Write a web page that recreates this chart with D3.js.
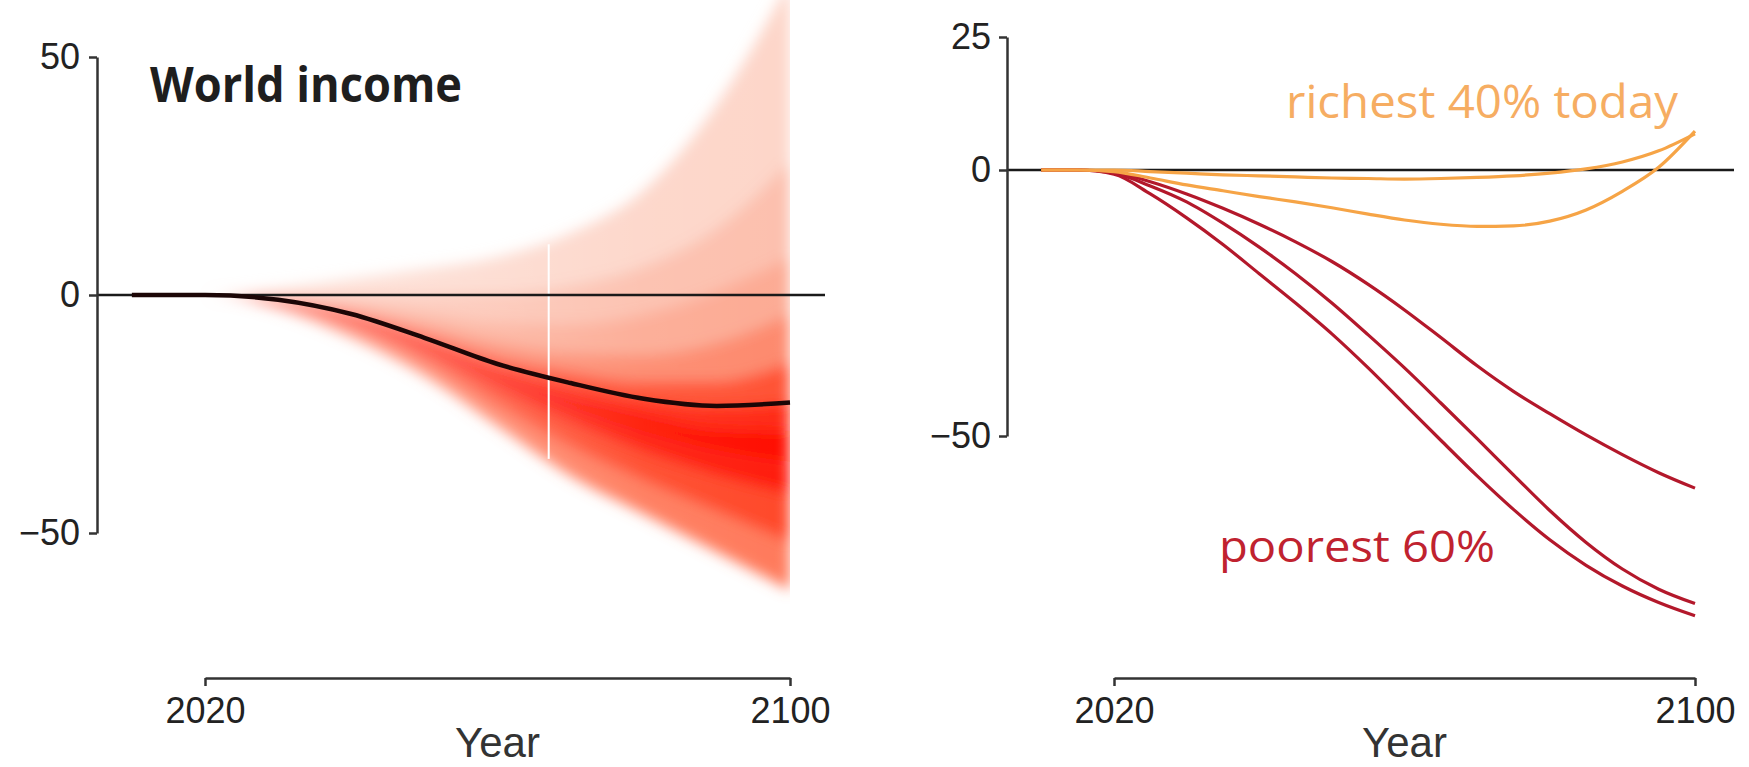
<!DOCTYPE html>
<html>
<head>
<meta charset="utf-8">
<script src="https://cdn.jsdelivr.net/npm/d3@7"></script>
<style>
  html, body { margin: 0; padding: 0; background: #fff; }
</style>
</head>
<body>
<script>
// ---- data ----
// left panel: world income, quantiles of the projected change (%)
const fanYears  = [2010, 2020, 2030, 2040, 2050, 2060, 2070, 2080, 2090, 2100];
const fanMedian = [0, 0, -1, -4, -9, -14.5, -18.5, -21.8, -23.3, -22.6];
const fanQ025 = [0, 0, -3, -9, -17, -27.5, -38, -46, -54, -62];
const fanQ10  = [0, 0, -2.5, -7.5, -14.5, -23.5, -32, -39, -45.5, -52];
const fanQ20  = [0, 0, -2, -6.3, -12.5, -20, -27, -33, -38, -42];
const fanQ30  = [0, 0, -1.6, -5.4, -11, -17.5, -23.5, -28.5, -32.5, -35];
const fanQ40  = [0, 0, -1.3, -4.7, -10, -16, -21, -25, -28, -28.5];
const fanQ60  = [0, 0, -0.7, -3.2, -7.5, -12.5, -15.8, -18, -18, -14];
const fanQ70  = [0, 0, -0.3, -2.2, -5.5, -9.5, -12, -12.5, -10, -4];
const fanQ80  = [0, 0, 0.2, -0.8, -3, -5.5, -6, -4, 1, 8];
const fanQ90  = [0, 0, 0.7, 1, 0.5, 0.5, 2, 6, 14, 28];
const fanQ975 = [0, 0, 1.5, 3.5, 5.5, 8, 13, 22, 40, 66];
const splitYear = 2067;

// right panel: income groups, every 5 years
const groupYears   = [2010, 2015, 2020, 2025, 2030, 2035, 2040, 2045, 2050, 2055,
                      2060, 2065, 2070, 2075, 2080, 2085, 2090, 2095, 2100];
const richestUpper = [0, 0, 0, -0.3, -0.6, -0.9, -1.1, -1.3, -1.5, -1.6,
                      -1.7, -1.6, -1.4, -1.1, -0.6, 0.2, 1.5, 3.6, 6.8];
const richestLower = [0, 0, -0.3, -1.5, -2.8, -3.9, -5, -6, -7.1, -8.3,
                      -9.4, -10.2, -10.6, -10.5, -9.6, -7.5, -4, 0.5, 7.3];
const poorestTop   = [0, 0, -0.4, -2.2, -4.5, -7.2, -10.2, -13.5, -17.2, -21.5,
                      -26.3, -31.5, -36.8, -41.6, -45.8, -49.8, -53.5, -56.9, -59.8];
const poorestMid   = [0, 0, -0.6, -3, -6, -10, -14.5, -19.5, -25, -31,
                      -37.2, -43.8, -50.5, -57.3, -64, -70, -75, -78.8, -81.5];
const poorestLow   = [0, 0, -0.8, -4.5, -9, -14, -19.5, -25, -30.8, -37.2,
                      -44, -50.8, -57.5, -63.8, -69.5, -74.3, -78.2, -81.3, -83.8];

const leftYTicks  = [-50, 0, 50];
const rightYTicks = [-50, 0, 25];
const xTicks      = [2020, 2100];

// ---- layout ----
const W = 1749, H = 767;
const tickFont = '"Liberation Sans", Arial, Helvetica, sans-serif';
const labelFont = '"Open Sans", "Noto Sans", sans-serif';

const svg = d3.select('body').append('svg')
    .attr('width', W)
    .attr('height', H)
    .style('background-color', '#fff');

const xL = d3.scaleLinear().domain([2020, 2100]).range([205, 790]);
const yL = d3.scaleLinear().domain([-50, 50]).range([533, 57]);
const xR = d3.scaleLinear().domain([2020, 2100]).range([1114, 1695]);
const yR = d3.scaleLinear().domain([-50, 25]).range([436, 37]);

const axisLeftX = 97, axisRightX = 1007, axisBottomY = 678;

function styleAxis(g) {
    g.select('.domain').attr('stroke', '#333').attr('stroke-width', 2.5);
    g.selectAll('.tick line').attr('stroke', '#333').attr('stroke-width', 2.5);
    g.selectAll('.tick text')
        .attr('fill', '#222')
        .style('font-family', tickFont)
        .style('font-size', '36px');
}

// ---- left panel: fan ----
const defs = svg.append('defs');
defs.append('filter')
    .attr('id', 'soft')
    .attr('x', '-20%').attr('y', '-20%')
    .attr('width', '140%').attr('height', '140%')
    .append('feGaussianBlur')
    .attr('stdDeviation', 7);
defs.append('clipPath')
    .attr('id', 'fanClip')
    .append('rect')
    .attr('x', axisLeftX)
    .attr('y', 0)
    .attr('width', xL(2100) - axisLeftX)
    .attr('height', H);

// white veil that lightens the early years of the fan
const veil = defs.append('linearGradient')
    .attr('id', 'veil')
    .attr('gradientUnits', 'userSpaceOnUse')
    .attr('x1', xL(2020)).attr('x2', xL(2100))
    .attr('y1', 0).attr('y2', 0);
veil.append('stop').attr('offset', '0%').attr('stop-color', '#fff').attr('stop-opacity', 0.5);
veil.append('stop').attr('offset', '40%').attr('stop-color', '#fff').attr('stop-opacity', 0.25);
veil.append('stop').attr('offset', '75%').attr('stop-color', '#fff').attr('stop-opacity', 0.05);
veil.append('stop').attr('offset', '100%').attr('stop-color', '#fff').attr('stop-opacity', 0);

const fanStack = [fanQ025, fanQ10, fanQ20, fanQ30, fanQ40, fanMedian, fanQ60, fanQ70, fanQ80, fanQ90, fanQ975];
const fanColors = ['#ff7a5c', '#ff4a2b', '#ff1e0a', '#ff0c00', '#ff2a12', '#ff5234',
                   '#fd8a6e', '#fcab94', '#fcc0ae', '#fdd6c9'];

const fanClipped = svg.append('g')
    .attr('clip-path', 'url(#fanClip)');
const fanG = fanClipped.append('g')
    .attr('filter', 'url(#soft)');

for (let i = 0; i < fanStack.length - 1; i++) {
    const lower = fanStack[i], upper = fanStack[i + 1];
    const area = d3.area()
        .x((d, j) => xL(fanYears[j]))
        .y0((d, j) => yL(lower[j]))
        .y1((d, j) => yL(upper[j]))
        .curve(d3.curveMonotoneX);
    fanG.append('path')
        .datum(fanYears)
        .attr('d', area)
        .attr('fill', fanColors[i]);
}

fanClipped.append('rect')
    .attr('x', xL(2010)).attr('y', 0)
    .attr('width', xL(2100) - xL(2010))
    .attr('height', H)
    .attr('fill', 'url(#veil)');

// white split line across the fan
const topAt = d3.scaleLinear().domain(fanYears).range(fanQ975);
const botAt = d3.scaleLinear().domain(fanYears).range(fanQ025);
svg.append('line')
    .attr('x1', xL(splitYear)).attr('x2', xL(splitYear))
    .attr('y1', yL(topAt(splitYear)) + 4)
    .attr('y2', yL(botAt(splitYear)) - 2)
    .attr('stroke', '#fff')
    .attr('stroke-width', 2);

// zero line
svg.append('line')
    .attr('x1', axisLeftX).attr('x2', xL(2100) + 35)
    .attr('y1', yL(0)).attr('y2', yL(0))
    .attr('stroke', '#1a1a1a')
    .attr('stroke-width', 2.5);

// median
svg.append('path')
    .datum(fanMedian)
    .attr('d', d3.line()
        .x((d, j) => xL(fanYears[j]))
        .y(d => yL(d))
        .curve(d3.curveMonotoneX))
    .attr('fill', 'none')
    .attr('stroke', '#1c0606')
    .attr('stroke-width', 4.5);

// axes
svg.append('g')
    .attr('transform', `translate(${axisLeftX},0)`)
    .call(d3.axisLeft(yL).tickValues(leftYTicks).tickSize(8).tickSizeOuter(0).tickPadding(9))
    .call(styleAxis);
svg.append('g')
    .attr('transform', `translate(0,${axisBottomY})`)
    .call(d3.axisBottom(xL).tickValues(xTicks).tickSize(8).tickSizeOuter(0).tickPadding(11).tickFormat(d3.format('d')))
    .call(styleAxis);

svg.append('text')
    .attr('x', 150).attr('y', 102)
    .attr('textLength', 312)
    .attr('lengthAdjust', 'spacingAndGlyphs')
    .style('font-family', labelFont)
    .style('font-weight', 700)
    .style('font-size', '48px')
    .attr('fill', '#1e1e1e')
    .text('World income');

svg.append('text')
    .attr('x', (xL(2020) + xL(2100)) / 2).attr('y', 757)
    .attr('text-anchor', 'middle')
    .style('font-family', tickFont)
    .style('font-size', '42px')
    .attr('fill', '#333')
    .text('Year');

// ---- right panel ----
svg.append('line')
    .attr('x1', axisRightX).attr('x2', xR(2100) + 39)
    .attr('y1', yR(0)).attr('y2', yR(0))
    .attr('stroke', '#1a1a1a')
    .attr('stroke-width', 2.5);

const groupLine = d3.line()
    .x((d, j) => xR(groupYears[j]))
    .y(d => yR(d))
    .curve(d3.curveMonotoneX);

const groupSeries = [
    { values: poorestTop, color: '#b3182b' },
    { values: poorestMid, color: '#b3182b' },
    { values: poorestLow, color: '#b3182b' },
    { values: richestUpper, color: '#f6a446' },
    { values: richestLower, color: '#f6a446' }
];

svg.selectAll('.group')
    .data(groupSeries)
    .enter().append('path')
    .attr('class', 'group')
    .attr('d', d => groupLine(d.values))
    .attr('fill', 'none')
    .attr('stroke', d => d.color)
    .attr('stroke-width', 3.2);

svg.append('g')
    .attr('transform', `translate(${axisRightX},0)`)
    .call(d3.axisLeft(yR).tickValues(rightYTicks).tickSize(8).tickSizeOuter(0).tickPadding(8))
    .call(styleAxis);
svg.append('g')
    .attr('transform', `translate(0,${axisBottomY})`)
    .call(d3.axisBottom(xR).tickValues(xTicks).tickSize(8).tickSizeOuter(0).tickPadding(11).tickFormat(d3.format('d')))
    .call(styleAxis);

svg.append('text')
    .attr('x', 1286).attr('y', 118)
    .attr('textLength', 392)
    .attr('lengthAdjust', 'spacingAndGlyphs')
    .style('font-family', labelFont)
    .style('font-size', '46px')
    .attr('fill', '#f6ad62')
    .text('richest 40% today');

svg.append('text')
    .attr('x', 1219).attr('y', 562)
    .attr('textLength', 276)
    .attr('lengthAdjust', 'spacingAndGlyphs')
    .style('font-family', labelFont)
    .style('font-size', '44px')
    .attr('fill', '#c0222f')
    .text('poorest 60%');

svg.append('text')
    .attr('x', (xR(2020) + xR(2100)) / 2).attr('y', 757)
    .attr('text-anchor', 'middle')
    .style('font-family', tickFont)
    .style('font-size', '42px')
    .attr('fill', '#333')
    .text('Year');
</script>
</body>
</html>
